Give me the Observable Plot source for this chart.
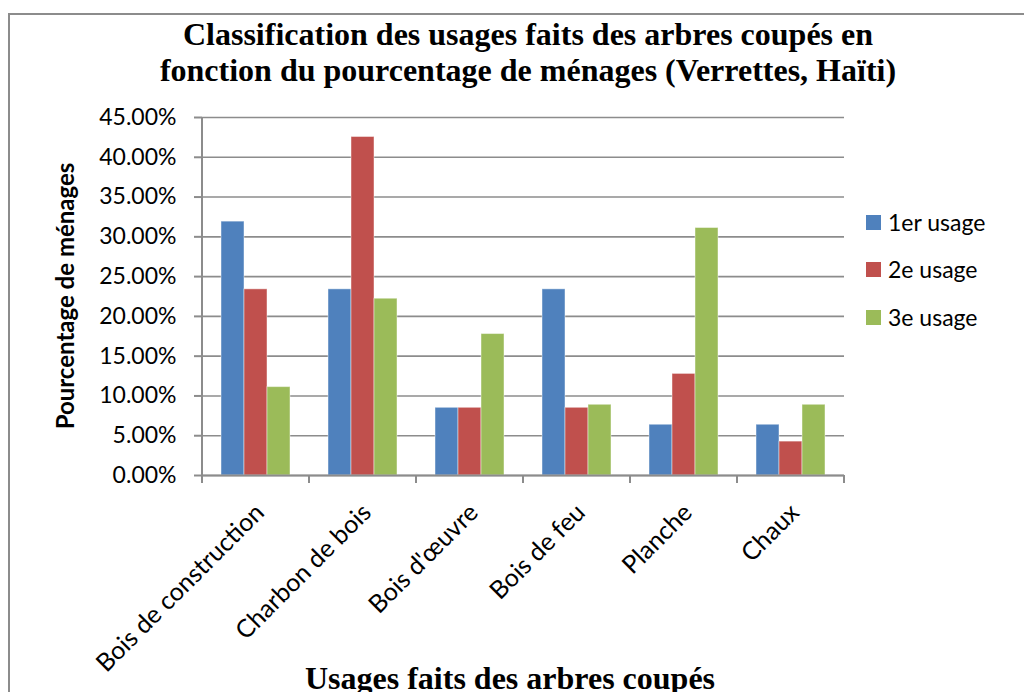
<!DOCTYPE html>
<html><head><meta charset="utf-8">
<script src="https://cdn.jsdelivr.net/npm/d3@7"></script>
<script src="https://cdn.jsdelivr.net/npm/@observablehq/plot@0.6"></script>
<style>
body{margin:0;background:#fff;}
#wrap{position:relative;width:1024px;height:692px;overflow:hidden;background:#fff;}
#border{position:absolute;left:8px;top:13px;width:1100px;height:800px;border:2px solid #8c8c8c;box-sizing:border-box;}
#chart{position:absolute;left:0;top:0;}
.title{position:absolute;left:28px;width:1000px;top:16px;text-align:center;font-family:"Liberation Serif",serif;font-weight:bold;font-size:32px;line-height:36px;color:#000;}
.xtitle{position:absolute;left:10px;width:1000px;top:660px;text-align:center;font-family:"Liberation Serif",serif;font-weight:bold;font-size:32px;line-height:36px;color:#000;}
.ytitle{position:absolute;left:64px;top:296px;transform:translate(-50%,-50%) rotate(-90deg);white-space:nowrap;font-family:Lato,sans-serif;font-weight:bold;font-size:24px;color:#000;}
#legend{position:absolute;left:866px;top:0;font-family:Lato,sans-serif;font-size:23px;color:#000;}
.li{position:absolute;left:0;white-space:nowrap;display:flex;align-items:center;height:30px;}
.sw{width:15px;height:15px;margin-right:7px;}
</style></head>
<body><div id="wrap">
<div id="border"></div>
<div id="chart"></div>
<div class="title">Classification des usages faits des arbres coupés en<br>fonction du pourcentage de ménages (Verrettes, Haïti)</div>
<div class="ytitle">Pourcentage de ménages</div>
<div class="xtitle">Usages faits des arbres coupés</div>
<div id="legend"></div>
</div>
<script>
const categories = ["Bois de construction", "Charbon de bois", "Bois d'œuvre", "Bois de feu", "Planche", "Chaux"];
const series = ["1er usage", "2e usage", "3e usage"];
const usage1 = [0.3191, 0.2340, 0.0851, 0.2340, 0.0638, 0.0638];
const usage2 = [0.2340, 0.4255, 0.0851, 0.0851, 0.1277, 0.0426];
const usage3 = [0.1111, 0.2222, 0.1778, 0.0889, 0.3111, 0.0889];
const colors = ["#4F81BD", "#C0504D", "#9BBB59"];
const yTicks = [0, 0.05, 0.10, 0.15, 0.20, 0.25, 0.30, 0.35, 0.40, 0.45];

const values = [usage1, usage2, usage3];
const data = categories.flatMap((c, i) => series.map((s, j) => ({category: c, serie: s, value: values[j][i]})));

const plot = Plot.plot({
  width: 1024, height: 692,
  marginTop: 117, marginBottom: 217, marginLeft: 201, marginRight: 179,
  style: {fontFamily: "Lato, sans-serif", background: "transparent", overflow: "visible", color: "#000"},
  fx: {domain: categories, padding: 0, label: null},
  x: {domain: series, paddingInner: 0, paddingOuter: 0.76, axis: null},
  y: {domain: [0, 0.45], label: null},
  color: {domain: series, range: colors},
  marks: [
    Plot.gridY(yTicks, {stroke: "#8c8c8c", strokeOpacity: 1, strokeWidth: 1.6}),
    Plot.barY(data, {fx: "category", x: "serie", y: "value", fill: "serie", stroke: "#ffffff", strokeOpacity: 0.45, strokeWidth: 1}),
    Plot.ruleY([0], {stroke: "#8c8c8c", strokeWidth: 2}),
    Plot.axisY(yTicks, {tickFormat: ".2%", tickSize: 8, tickPadding: 18, fontSize: 23, stroke: "#8c8c8c", strokeWidth: 2, fill: "#000", label: null}),
    Plot.axisFx({anchor: "bottom", tickRotate: -45, tickSize: 0, tickPadding: 33, dx: 4, fontSize: 25, fill: "#000", label: null})
  ]
});
document.getElementById("chart").appendChild(plot);

// axis line and category boundary ticks from the library's scales
const fx = plot.scale("fx"), y = plot.scale("y");
const yBottom = y.apply(0), yTop = y.apply(0.45);
const svg = d3.select(plot);
const g = svg.append("g").attr("stroke", "#8c8c8c").attr("stroke-width", 2);
const bounds = categories.map(c => fx.apply(c)).concat([fx.apply(categories[categories.length - 1]) + fx.bandwidth]);
g.append("line").attr("x1", bounds[0]).attr("x2", bounds[0]).attr("y1", yTop).attr("y2", yBottom + 8);
bounds.forEach(b => g.append("line").attr("x1", b).attr("x2", b).attr("y1", yBottom).attr("y2", yBottom + 8));

// legend
const legend = document.getElementById("legend");
const legendTops = [207, 254, 302];
series.forEach((s, i) => {
  const row = document.createElement("div");
  row.className = "li";
  row.style.top = legendTops[i] + "px";
  row.innerHTML = `<span class="sw" style="background:${colors[i]}"></span><span>${s}</span>`;
  legend.appendChild(row);
});
</script>
</body></html>
